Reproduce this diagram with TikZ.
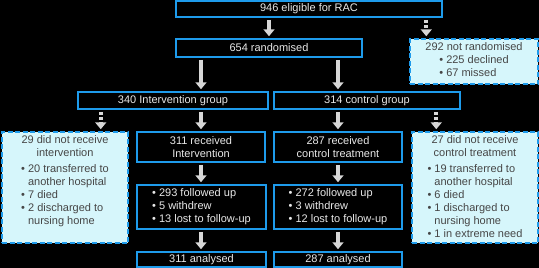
\documentclass[tikz,border=0pt]{standalone}
\usepackage{fontspec}
\setmainfont{Liberation Sans}
\usetikzlibrary{arrows.meta}
\definecolor{bordblue}{RGB}{30,155,235}
\definecolor{dfill}{RGB}{214,246,251}
\definecolor{arrgray}{RGB}{215,215,215}
\definecolor{dtext}{RGB}{70,70,70}
\definecolor{ltext}{RGB}{232,232,232}
\newcommand\hang{\phantom{•\ }}
\begin{document}
\begin{tikzpicture}[x=1pt,y=-1pt,
  sbox/.style={draw=bordblue, line width=1.5pt, fill=black, text=ltext,
    font=\fontsize{11}{13}\selectfont, inner sep=0pt, align=center},
  lbox/.style={sbox, align=left},
  dbox/.style={draw=bordblue, line width=1.5pt, dash pattern=on 5pt off 2.5pt,
    fill=dfill, text=dtext, font=\fontsize{11}{13}\selectfont, inner sep=0pt, align=center},
  arr/.style={draw=arrgray, line width=4pt, -{Triangle[width=11pt,length=7pt]},
    shorten <=2pt, shorten >=2pt},
  darr/.style={arr, dash pattern=on 3pt off 2pt}]
\fill[black] (0,0) rectangle (539,268);
\useasboundingbox (0,0) rectangle (539,268);

\node[sbox, minimum width=266pt, minimum height=16pt] (top) at (309,9) {946 eligible for RAC};
\node[sbox, minimum width=186pt, minimum height=18pt] (rand) at (269,48) {654 randomised};
\node[dbox, minimum width=128pt, minimum height=45pt] (notrand) at (474,61.5)
  {292 not randomised\\ \begin{tabular}[t]{@{}l@{}}• 225 declined\\• 67 missed\end{tabular}};

\node[sbox, minimum width=190pt, minimum height=17pt] (intgrp) at (173,100.5) {340 Intervention group};
\node[sbox, minimum width=186pt, minimum height=17pt] (ctlgrp) at (367,100.5) {314 control group};

\node[dbox, minimum width=126pt, minimum height=111pt] (leftdash) at (65,187.5)
  {\parbox[c][103pt][t]{122pt}{\centering 29 did not receive\\ intervention\\[3pt]
   \begin{tabular}[t]{@{}l@{}}• 20 transferred to\\\hang another hospital\\• 7 died\\• 2 discharged to\\\hang nursing home\end{tabular}\par}};
\node[dbox, minimum width=126pt, minimum height=111pt] (rightdash) at (475,187.5)
  {\parbox[c][103pt][t]{122pt}{\centering 27 did not receive\\ control treatment\\[3pt]
   \begin{tabular}[t]{@{}l@{}}• 19 transferred to\\\hang another hospital\\• 6 died\\• 1 discharged to\\\hang nursing home\\• 1 in extreme need\end{tabular}\par}};

\node[sbox, minimum width=128pt, minimum height=30pt] (recint) at (201,147) {311 received\\Intervention};
\node[sbox, minimum width=128pt, minimum height=30pt] (recctl) at (338,147) {287 received\\control treatment};

\node[lbox, minimum width=129pt, minimum height=44pt] (fuint) at (201.5,207)
  {• 293 followed up\\• 5 withdrew\\• 13 lost to follow-up};
\node[lbox, minimum width=128pt, minimum height=44pt] (fuctl) at (338,207)
  {• 272 followed up\\• 3 withdrew\\• 12 lost to follow-up};

\node[sbox, minimum width=129pt, minimum height=15pt] (anint) at (201.5,259.5) {311 analysed};
\node[sbox, minimum width=128pt, minimum height=15pt] (anctl) at (338,259.5) {287 analysed};

\draw[arr] (top.south -| rand) -- (rand.north);
\draw[darr] ([xshift=17pt]notrand.north west |- top.south) -- ([xshift=17pt]notrand.north west);
\draw[arr] (rand.south -| recint) -- (intgrp.north -| recint);
\draw[arr] (rand.south -| recctl) -- (ctlgrp.north -| recctl);
\draw[darr] ([xshift=-28pt]leftdash.north east |- intgrp.south) -- ([xshift=-28pt]leftdash.north east);
\draw[arr] (intgrp.south -| recint) -- (recint.north);
\draw[arr] (ctlgrp.south -| recctl) -- (recctl.north);
\draw[darr] ([xshift=25pt]rightdash.north west |- ctlgrp.south) -- ([xshift=25pt]rightdash.north west);
\draw[arr] (recint.south) -- (fuint.north -| recint);
\draw[arr] (recctl.south) -- (fuctl.north -| recctl);
\draw[arr] (fuint.south -| recint) -- (anint.north -| recint);
\draw[arr] (fuctl.south -| recctl) -- (anctl.north -| recctl);
\end{tikzpicture}
\end{document}
